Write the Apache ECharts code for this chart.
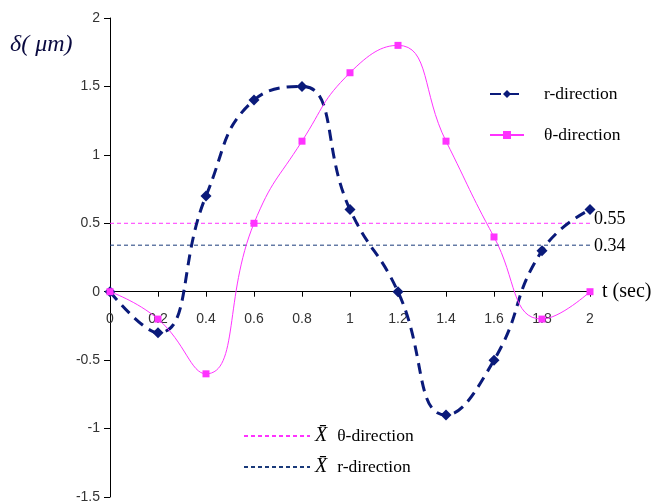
<!DOCTYPE html>
<html>
<head>
<meta charset="utf-8">
<script src="https://cdn.jsdelivr.net/npm/echarts@6/dist/echarts.min.js"></script>
<style>
  html, body { margin: 0; padding: 0; background: #fff; }
  #chart { width: 654px; height: 504px; }
</style>
</head>
<body>
<div id="chart"></div>
<script>
// time points (sec)
var tVals = [0, 0.2, 0.4, 0.6, 0.8, 1.0, 1.2, 1.4, 1.6, 1.8, 2.0];
// displacement, um
var rDir = [0, -0.3, 0.7, 1.4, 1.5, 0.6, 0, -0.9, -0.5, 0.3, 0.6];
var thetaDir = [0, -0.2, -0.6, 0.5, 1.1, 1.6, 1.8, 1.1, 0.4, -0.2, 0];
// mean lines (position on chart, printed label)
var meanTheta = 0.5, meanThetaLabel = '0.55';
var meanR = 0.34, meanRLabel = '0.34';

var navy = '#0a1a7a';
var pink = '#ff33ff';
var serif = '"Liberation Serif", "DejaVu Serif", serif';
var sans = '"Liberation Sans", Arial, sans-serif';

function pairs(ys) {
  return tVals.map(function (t, i) { return [t, ys[i]]; });
}
function flat(v) {
  return [[tVals[0], v], [tVals[tVals.length - 1], v]];
}

var gridTop = 18, gridBottom = 7, plotH = 504 - gridTop - gridBottom;
// x axis sits on y = 0, i.e. 1.5/3.5 of the plot height above the bottom
var zeroOffset = -plotH * 1.5 / 3.5;

var chart = echarts.init(document.getElementById('chart'));
chart.setOption({
  animation: false,
  grid: { left: 110, right: 64, top: gridTop, bottom: gridBottom, outerBoundsMode: 'none' },
  xAxis: {
    type: 'value', min: 0, max: 2, interval: 0.2,
    position: 'bottom', offset: zeroOffset,
    axisLine: { onZero: false, lineStyle: { color: '#000', width: 1 } },
    axisTick: { show: true, inside: false, length: 5, lineStyle: { color: '#000' } },
    axisLabel: { color: '#333', fontFamily: sans, fontSize: 14, margin: 20,
      formatter: function (v) { return String(Math.round(v * 10) / 10); } },
    splitLine: { show: false },
    name: 't (sec)', nameLocation: 'end', nameGap: 12,
    nameTextStyle: { fontFamily: serif, fontSize: 20, color: '#000', verticalAlign: 'middle' }
  },
  yAxis: {
    type: 'value', min: -1.5, max: 2, interval: 0.5,
    axisLine: { onZero: false, lineStyle: { color: '#000', width: 1 } },
    axisTick: { show: true, length: 6, lineStyle: { color: '#000' } },
    axisLabel: { color: '#333', fontFamily: sans, fontSize: 14, margin: 10 },
    splitLine: { show: false }
  },
  legend: [{
    orient: 'vertical', left: 484, top: 80, itemGap: 23,
    itemWidth: 34, itemHeight: 10,
    textStyle: { fontFamily: serif, fontSize: 17.5, color: '#000', padding: [0, 0, 0, 15] },
    data: ['r-direction', 'θ-direction']
  }, {
    orient: 'vertical', left: 238, top: 421, itemGap: 11,
    itemWidth: 66, itemHeight: 10,
    textStyle: { fontFamily: serif, fontSize: 17.5, color: '#000',
      rich: { x: { fontFamily: serif, fontStyle: 'italic', fontSize: 20, padding: [0, 10, 0, 0] } } },
    formatter: function (name) {
      return '{x|X\u0304}' + name.replace('mean ', '');
    },
    data: [
      { name: 'mean θ-direction', itemStyle: { opacity: 0 } },
      { name: 'mean r-direction', itemStyle: { opacity: 0 } }
    ]
  }],
  graphic: [{
    type: 'text', left: 10, top: 33,
    style: { text: 'δ( μm)', font: 'italic 24px ' + serif, fill: '#0a0a40' }
  }],
  series: [{
    name: 'mean θ-direction', type: 'line', data: flat(meanTheta),
    symbol: 'none', lineStyle: { color: pink, width: 1, type: [4, 3] },
    itemStyle: { color: pink },
    endLabel: { show: true, formatter: meanThetaLabel, fontFamily: serif, fontSize: 18,
      color: '#000', distance: 4, offset: [0, -4] },
    z: 1
  }, {
    name: 'mean r-direction', type: 'line', data: flat(meanR),
    symbol: 'none', lineStyle: { color: '#1a3a7a', width: 1, type: [4, 3] },
    itemStyle: { color: '#1a3a7a' },
    endLabel: { show: true, formatter: meanRLabel, fontFamily: serif, fontSize: 18,
      color: '#000', distance: 4, offset: [0, 1] },
    z: 1
  }, {
    name: 'θ-direction', type: 'line', data: pairs(thetaDir),
    smooth: 0.5, symbol: 'rect', symbolSize: 7,
    lineStyle: { color: pink, width: 1 },
    itemStyle: { color: pink },
    z: 3
  }, {
    name: 'r-direction', type: 'line', data: pairs(rDir),
    smooth: 0.5, symbol: 'diamond', symbolSize: 11,
    lineStyle: { color: navy, width: 3, type: [11, 7] },
    itemStyle: { color: navy },
    z: 2
  }]
});
</script>
</body>
</html>
